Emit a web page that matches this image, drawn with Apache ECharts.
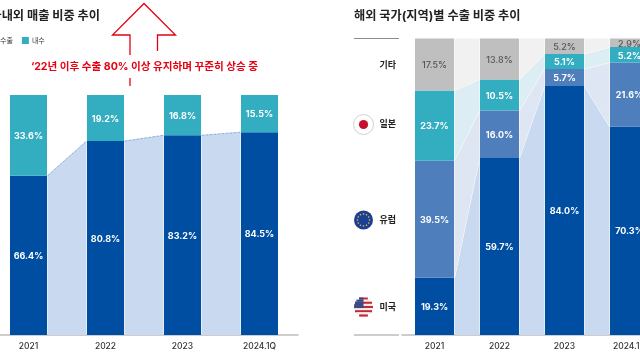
<!DOCTYPE html>
<html><head><meta charset="utf-8">
<style>html,body{margin:0;padding:0;background:#fff}#c{width:640px;height:360px}</style>
<script src="https://cdn.jsdelivr.net/npm/echarts@6/dist/echarts.min.js"></script>
</head><body><div id="c"></div>
<script>
const categories = ['2021','2022','2023','2024.1Q'];
const exportShare = [66.4,80.8,83.2,84.5];
const domesticShare = [33.6,19.2,16.8,15.5];
const usShare = [19.3,59.7,84.0,70.3];
const europeShare = [39.5,16.0,5.7,21.6];
const japanShare = [23.7,10.5,5.1,5.2];
const otherShare = [17.5,13.8,5.2,2.9];
const FONT = 'Inter, "Noto Sans CJK KR", sans-serif';
const LEFT_BAR = 37, RIGHT_BAR = 39;
const BLUE='#004ea2', MID='#4e7fbc', TEAL='#33aec1', GREY='#bfbfbf';

function bandData(stacks, idx){
  const lower = categories.map((_,c)=>stacks.slice(0,idx).reduce((s,a)=>s+a[c],0));
  const upper = categories.map((_,c)=>lower[c]+stacks[idx][c]);
  return categories.slice(0,-1).map((_,c)=>[c,lower[c],upper[c],lower[c+1],upper[c+1]]);
}
function bandSeries(name,stacks,idx,axis,barW,fill,edge){
  return {type:'custom',name,xAxisIndex:axis,yAxisIndex:axis,silent:true,z:1,clip:false,
    data:bandData(stacks,idx),
    encode:{x:0,y:[1,2,3,4]},
    renderItem(params,api){
      const c=api.value(0), half=barW/2+0.5;
      const a=api.coord([c,api.value(1)]), b=api.coord([c,api.value(2)]);
      const d=api.coord([c+1,api.value(3)]), e=api.coord([c+1,api.value(4)]);
      const x1=a[0]+half, x2=d[0]-half;
      const children=[{type:'polygon',shape:{points:[[x1,a[1]],[x1,b[1]],[x2,e[1]],[x2,d[1]]]},style:{fill}}];
      children.push({type:'line',shape:{x1,y1:b[1],x2,y2:e[1]},style:edge});
      return {type:'group',children};
    }};
}
function barSeries(name,data,axis,barW,color,labelColor,weight){
  return {type:'bar',name,data,stack:'s'+axis,xAxisIndex:axis,yAxisIndex:axis,barWidth:barW,z:3,
    itemStyle:{color},
    label:{show:true,position:'inside',offset:[0,1],color:labelColor,fontFamily:FONT,fontWeight:weight,fontSize:9,
      formatter:p=>p.value.toFixed(1)+'%'}};
}
const leftStacks=[exportShare,domesticShare];
const rightStacks=[usShare,europeShare,japanShare,otherShare];
const white={stroke:'#fff',lineWidth:1};

const flagX=363.5, R=9.5, g=[];
// Japan
g.push({type:'circle',shape:{cx:flagX,cy:124.5,r:10},style:{fill:'#fff',stroke:'#c4c4c4',lineWidth:0.8}});
g.push({type:'circle',shape:{cx:flagX,cy:124.5,r:4.6},style:{fill:'#c8102e'}});
// EU
g.push({type:'circle',shape:{cx:flagX,cy:220,r:R},style:{fill:'#1c3f94'}});
for(let i=0;i<12;i++){const t=i*Math.PI/6;
  g.push({type:'circle',shape:{cx:flagX+6*Math.cos(t),cy:220+6*Math.sin(t),r:0.8},style:{fill:'#e8c341'}});}
// US
for(let i=0;i<9;i++){
  const y0=297.5+i*19/9, yc=y0+19/18-307, hw=Math.sqrt(Math.max(0,R*R-yc*yc));
  g.push({type:'rect',shape:{x:flagX-hw,y:y0,width:2*hw,height:19/9+0.1},style:{fill:i%2?'#f4f0f0':'#c22a35'}});
}
for(let i=0;i<5;i++){
  const y0=297.5+i*2.1, yc=y0+1.05-307, hw=Math.sqrt(Math.max(0,R*R-yc*yc));
  g.push({type:'rect',shape:{x:flagX-hw,y:y0,width:hw,height:2.2},style:{fill:'#3c4a85'}});
}
// side labels
[['기타',65],['일본',124.5],['유럽',220],['미국',307]].forEach(([t,y])=>g.push({type:'text',x:379.5,y,
  style:{text:t,fontFamily:FONT,fontSize:9,fontWeight:700,fill:'#222',textVerticalAlign:'middle'}}));
// rule lines beside the right chart
g.push({type:'line',shape:{x1:354,y1:38.5,x2:399,y2:38.5},style:{stroke:'#8c8c8c',lineWidth:1}});
g.push({type:'line',shape:{x1:354,y1:335,x2:399,y2:335},style:{stroke:'#bdbdbd',lineWidth:1.5}});
// arrow
const RED='#e60012';
g.push({type:'polyline',shape:{points:[[130,55],[130,35],[112.5,35],[144,3.5],[175.5,35],[157.5,35],[157.5,51]]},style:{stroke:RED,lineWidth:1.3,fill:null}});
g.push({type:'line',shape:{x1:130,y1:78,x2:130,y2:86},style:{stroke:RED,lineWidth:1.3}});
g.push({type:'text',x:144.5,y:67,style:{text:"‘22년 이후 수출 80% 이상 유지하며 꾸준히 상승 중",fontFamily:FONT,fontSize:10.6,fontWeight:700,fill:RED,textAlign:'center',textVerticalAlign:'middle'}});

const axisBase={type:'category',data:categories,axisTick:{show:false},
  axisLine:{lineStyle:{color:'#bdbdbd',width:1.5}},
  axisLabel:{color:'#333',fontFamily:FONT,fontSize:8.5,fontWeight:500,margin:7}};
const valBase={type:'value',min:0,max:100,show:false};

const chart=echarts.init(document.getElementById('c'),null,{renderer:'canvas'});
chart.setOption({
  animation:false,
  title:[
    {text:'국내외 매출 비중 추이',right:540,top:10,padding:0,textStyle:{fontFamily:FONT,fontSize:12.2,fontWeight:700,color:'#222'}},
    {text:'해외 국가(지역)별 수출 비중 추이',left:354,top:10,padding:0,textStyle:{fontFamily:FONT,fontSize:12.2,fontWeight:700,color:'#222'}}
  ],
  legend:{data:['수출','내수'],left:-10,top:37,padding:0,itemWidth:7,itemHeight:7,itemGap:9,icon:'rect',
    textStyle:{fontFamily:FONT,fontSize:7,color:'#333',padding:[0,0,0,-2]}},
  grid:[
    {left:-10,top:95,width:308,height:240,outerBoundsMode:'none'},
    {left:402,top:38.5,width:260,height:296.5,outerBoundsMode:'none'}
  ],
  xAxis:[{...axisBase,gridIndex:0},{...axisBase,gridIndex:1}],
  yAxis:[{...valBase,gridIndex:0},{...valBase,gridIndex:1}],
  series:[
    bandSeries('수출 연결',leftStacks,0,0,LEFT_BAR,'#c8d9f0',{stroke:'#8fb0da',lineWidth:1,lineDash:[3,1]}),
    barSeries('수출',exportShare,0,LEFT_BAR,BLUE,'#fff',700),
    barSeries('내수',domesticShare,0,LEFT_BAR,TEAL,'#fff',700),
    bandSeries('미국 연결',rightStacks,0,1,RIGHT_BAR,'#c8d9f0',white),
    bandSeries('유럽 연결',rightStacks,1,1,RIGHT_BAR,'#dde6f2',white),
    bandSeries('일본 연결',rightStacks,2,1,RIGHT_BAR,'#dcedf3',white),
    bandSeries('기타 연결',rightStacks,3,1,RIGHT_BAR,'#f1f1f1',{stroke:'#f1f1f1',lineWidth:0}),
    barSeries('미국',usShare,1,RIGHT_BAR,BLUE,'#fff',700),
    barSeries('유럽',europeShare,1,RIGHT_BAR,MID,'#fff',700),
    barSeries('일본',japanShare,1,RIGHT_BAR,TEAL,'#fff',700),
    barSeries('기타',otherShare,1,RIGHT_BAR,GREY,'#555',500)
  ],
  graphic:{elements:g}
});
</script></body></html>
